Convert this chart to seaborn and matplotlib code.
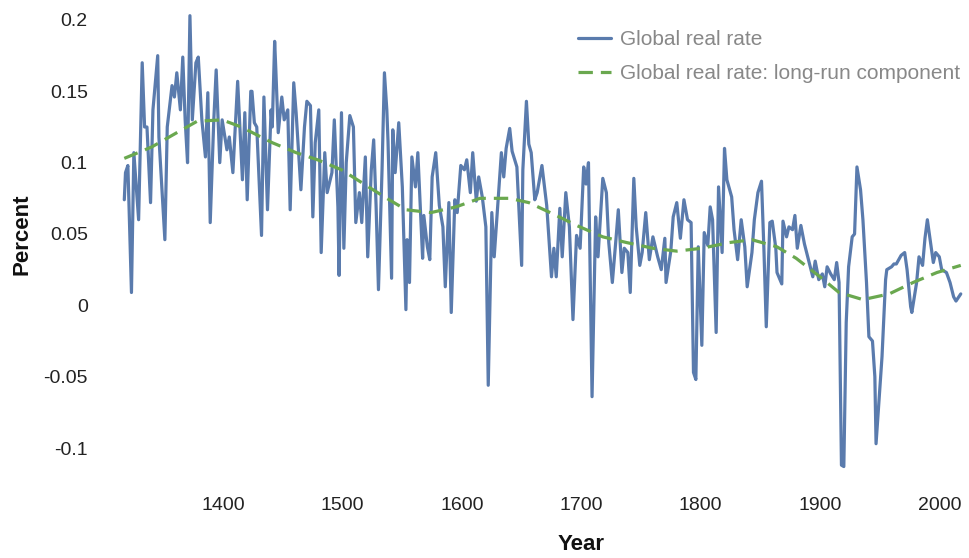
import matplotlib
matplotlib.use("Agg")
import matplotlib.pyplot as plt
import numpy as np
import pandas as pd
import seaborn as sns

# Global real rate (year, percent)
rate_years = [1317, 1318, 1320, 1323, 1325, 1329, 1332, 1334, 1336, 1339, 1341, 1345, 1346,
              1351, 1353, 1357, 1359, 1361, 1364, 1366, 1368, 1370, 1372, 1374, 1377, 1379,
              1382, 1385, 1387, 1389, 1392, 1394, 1397, 1399, 1403, 1405, 1408, 1412, 1416,
              1418, 1420, 1423, 1424, 1426, 1428, 1432, 1434, 1437, 1440, 1441, 1443, 1444,
              1446, 1449, 1451, 1454, 1456, 1459, 1461, 1465, 1468, 1470, 1473, 1475, 1477,
              1480, 1482, 1485, 1487, 1491, 1493, 1496, 1497, 1499, 1501, 1503, 1506, 1509,
              1511, 1514, 1516, 1519, 1521, 1524, 1526, 1528, 1530, 1533, 1535, 1537, 1538,
              1541, 1542, 1544, 1547, 1550, 1553, 1554, 1556, 1558, 1561, 1563, 1567, 1568,
              1571, 1573, 1575, 1578, 1581, 1584, 1586, 1589, 1591, 1594, 1596, 1599, 1602,
              1604, 1607, 1609, 1612, 1614, 1617, 1620, 1622, 1625, 1627, 1630, 1633, 1635,
              1637, 1640, 1642, 1646, 1650, 1651, 1654, 1656, 1658, 1661, 1663, 1667, 1671,
              1675, 1677, 1679, 1682, 1684, 1687, 1690, 1693, 1696, 1699, 1702, 1704, 1706,
              1709, 1712, 1714, 1718, 1721, 1723, 1726, 1729, 1731, 1734, 1736, 1739, 1741,
              1744, 1746, 1749, 1751, 1754, 1757, 1760, 1764, 1767, 1770, 1771, 1775, 1777,
              1780, 1783, 1786, 1789, 1792, 1794, 1796, 1798, 1801, 1803, 1806, 1808, 1810,
              1813, 1815, 1818, 1820, 1822, 1826, 1828, 1831, 1834, 1837, 1839, 1843, 1845,
              1848, 1851, 1853, 1855, 1858, 1860, 1863, 1864, 1868, 1869, 1872, 1874, 1877,
              1879, 1881, 1884, 1887, 1891, 1894, 1896, 1899, 1902, 1904, 1906, 1909, 1912,
              1914, 1916, 1918, 1920, 1922, 1924, 1927, 1929, 1931, 1934, 1936, 1939, 1941,
              1944, 1946, 1947, 1950, 1952, 1955, 1956, 1960, 1962, 1964, 1968, 1971, 1973,
              1976, 1977, 1981, 1983, 1986, 1988, 1990, 1993, 1995, 1997, 2000, 2002, 2006,
              2009, 2012, 2014, 2018]
rate_values = [0.074, 0.093, 0.098, 0.009, 0.107, 0.060, 0.170, 0.125, 0.125, 0.072, 0.137, 0.175, 0.118,
               0.046, 0.125, 0.154, 0.146, 0.163, 0.137, 0.174, 0.130, 0.100, 0.203, 0.130, 0.170, 0.174,
               0.130, 0.104, 0.149, 0.058, 0.130, 0.165, 0.100, 0.130, 0.109, 0.118, 0.093, 0.157, 0.088,
               0.135, 0.074, 0.150, 0.150, 0.128, 0.125, 0.049, 0.146, 0.067, 0.137, 0.125, 0.185, 0.165,
               0.121, 0.146, 0.130, 0.137, 0.067, 0.156, 0.135, 0.081, 0.125, 0.143, 0.140, 0.062, 0.114,
               0.137, 0.037, 0.107, 0.079, 0.093, 0.130, 0.069, 0.021, 0.135, 0.040, 0.100, 0.133, 0.125,
               0.058, 0.079, 0.058, 0.104, 0.034, 0.095, 0.116, 0.070, 0.011, 0.095, 0.163, 0.137, 0.115,
               0.019, 0.123, 0.093, 0.128, 0.083, -0.003, 0.046, 0.016, 0.104, 0.083, 0.107, 0.033, 0.063,
               0.041, 0.032, 0.090, 0.107, 0.070, 0.055, 0.013, 0.072, -0.005, 0.074, 0.065, 0.098, 0.095,
               0.102, 0.079, 0.107, 0.073, 0.090, 0.076, 0.055, -0.056, 0.065, 0.034, 0.070, 0.107, 0.090,
               0.110, 0.124, 0.108, 0.097, 0.028, 0.095, 0.143, 0.113, 0.107, 0.074, 0.079, 0.098, 0.070,
               0.020, 0.040, 0.020, 0.068, 0.034, 0.079, 0.055, -0.010, 0.049, 0.040, 0.097, 0.085, 0.100,
               -0.064, 0.062, 0.034, 0.089, 0.079, 0.044, 0.016, 0.046, 0.067, 0.023, 0.040, 0.037, 0.009,
               0.089, 0.055, 0.028, 0.037, 0.065, 0.032, 0.048, 0.034, 0.025, 0.047, 0.016, 0.038, 0.062,
               0.072, 0.047, 0.074, 0.060, 0.058, -0.047, -0.052, 0.041, -0.028, 0.051, 0.042, 0.069, 0.060,
               -0.019, 0.083, 0.037, 0.110, 0.088, 0.076, 0.053, 0.032, 0.060, 0.041, 0.013, 0.037, 0.060,
               0.079, 0.087, 0.040, -0.015, 0.058, 0.059, 0.040, 0.023, 0.015, 0.059, 0.048, 0.055, 0.053,
               0.063, 0.040, 0.056, 0.043, 0.030, 0.020, 0.031, 0.018, 0.022, 0.013, 0.027, 0.022, 0.018,
               0.030, 0.016, -0.112, -0.113, -0.012, 0.027, 0.048, 0.050, 0.097, 0.081, 0.060, 0.016, -0.022,
               -0.025, -0.050, -0.097, -0.060, -0.036, 0.018, 0.025, 0.027, 0.029, 0.029, 0.035, 0.037, 0.025,
               -0.001, -0.005, 0.016, 0.034, 0.028, 0.047, 0.060, 0.042, 0.030, 0.037, 0.034, 0.025, 0.023,
               0.016, 0.006, 0.003, 0.008]

# Long-run component
trend_years = [1317, 1340, 1361, 1378, 1399, 1415, 1441, 1461, 1479, 1499, 1516, 1535, 1553,
               1574, 1595, 1615, 1640, 1656, 1679, 1696, 1718, 1738, 1760, 1780, 1801, 1824,
               1843, 1864, 1880, 1900, 1916, 1936, 1958, 1978, 1998, 2018]
trend_values = [0.103, 0.111, 0.121, 0.129, 0.130, 0.125, 0.114, 0.107, 0.102, 0.095, 0.086, 0.076, 0.067,
                0.065, 0.069, 0.075, 0.075, 0.072, 0.063, 0.056, 0.048, 0.044, 0.040, 0.038, 0.040, 0.044,
                0.046, 0.041, 0.033, 0.020, 0.009, 0.004, 0.008, 0.016, 0.023, 0.028]

ytick_vals = [-0.1, -0.05, 0, 0.05, 0.1, 0.15, 0.2]
ytick_labels = ["-0.1", "-0.05", "0", "0.05", "0.1", "0.15", "0.2"]
xtick_vals = [1400, 1500, 1600, 1700, 1800, 1900, 2000]

sns.set_theme(style="white")
plt.rcParams["font.family"] = ["Liberation Sans", "DejaVu Sans"]

rate = pd.DataFrame({"Year": rate_years, "Percent": rate_values})
trend = pd.DataFrame({"Year": trend_years, "Percent": trend_values})

fig = plt.figure(figsize=(9.69, 5.58), dpi=100)
ax = fig.add_axes([0.1135, 0.1434, 0.8817, 0.8387])

blue = "#5a7bad"
green = "#6aa84f"
sns.lineplot(data=rate, x="Year", y="Percent", ax=ax, color=blue, linewidth=2.3,
             label="Global real rate")
sns.lineplot(data=trend, x="Year", y="Percent", ax=ax, color=green, linewidth=2.3,
             dashes=False, label="Global real rate: long-run component")
ax.lines[1].set_dashes((4.5, 2.5))

ax.set_xlim(1305, 2021)
ax.set_ylim(-0.121, 0.207)
ax.set_xticks(xtick_vals)
ax.set_xticklabels([str(v) for v in xtick_vals])
ax.set_yticks(ytick_vals)
ax.set_yticklabels(ytick_labels)
ax.tick_params(axis="x", length=0, pad=14, labelsize=14, labelcolor="#222222")
ax.tick_params(axis="y", length=0, pad=16, labelsize=14, labelcolor="#222222")
for s in ax.spines.values():
    s.set_visible(False)
ax.grid(False)

ax.set_xlabel("Year", fontsize=16, fontweight="bold", color="#111111")
ax.set_ylabel("Percent", fontsize=16, fontweight="bold", color="#111111")
# label centres taken from the reference layout (pixels)
ax.xaxis.set_label_coords((581 - 110) / 854.4, -(545 - 478) / 468, transform=ax.transAxes)
ax.yaxis.set_label_coords(-(110 - 22) / 854.4, (478 - 234) / 468, transform=ax.transAxes)
ax.xaxis.label.set_va("center")
ax.yaxis.label.set_va("center")

leg = ax.legend(loc="upper left", bbox_to_anchor=(578 / 969, 1 - 30 / 558),
                bbox_transform=fig.transFigure, frameon=False, fontsize=15,
                handlelength=1.6, handletextpad=0.4, labelspacing=0.72, borderpad=0,
                borderaxespad=0, labelcolor="#888888")

fig.savefig("out.png", dpi=100)
